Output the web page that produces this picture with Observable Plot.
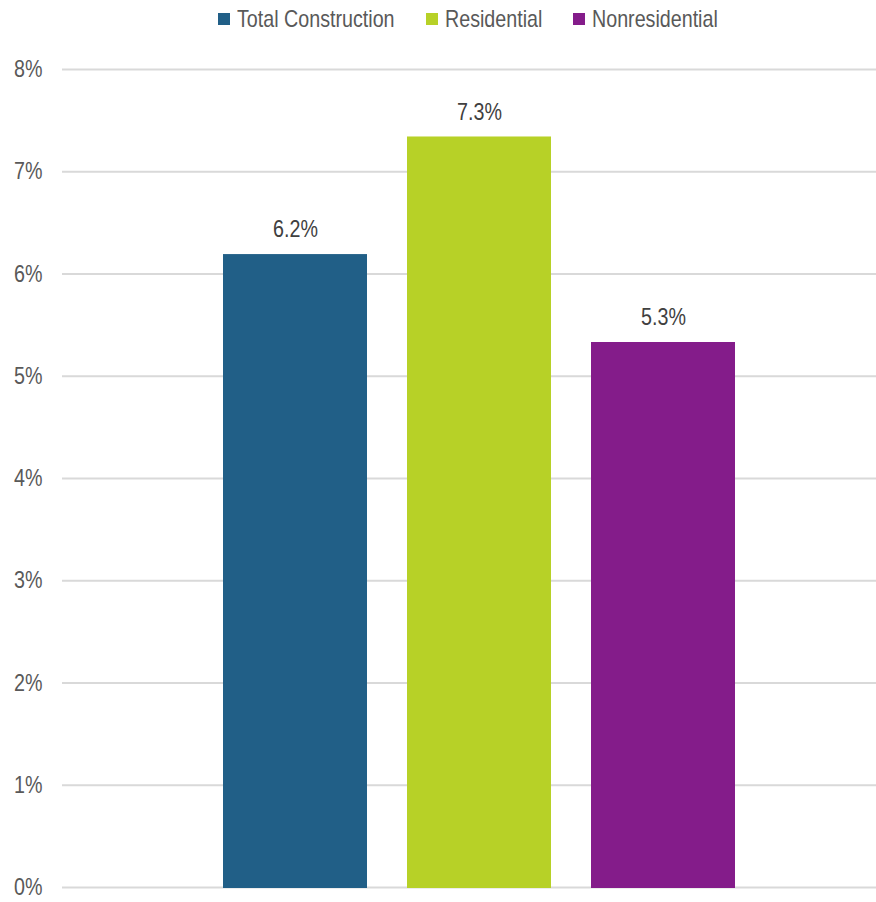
<!DOCTYPE html>
<html>
<head>
<meta charset="utf-8">
<script src="https://cdn.jsdelivr.net/npm/d3@7"></script>
<script src="https://cdn.jsdelivr.net/npm/@observablehq/plot@0.6"></script>
<style>
  html, body { margin: 0; padding: 0; background: #fff; }
  body { width: 876px; height: 902px; overflow: hidden; font-family: "Liberation Sans", Arial, sans-serif; }
  #legend { height: 37px; display: flex; align-items: center; padding-left: 218px; box-sizing: border-box; font-size: 24px; color: #595959; }
  .item { display: flex; align-items: center; margin-right: 31px; }
  .sw { width: 12px; height: 12px; margin-right: 7px; flex: none; }
  .lab { display: inline-block; white-space: nowrap; }
  .lab span { display: inline-block; transform-origin: left center; transform: scaleX(0.82); }
</style>
</head>
<body>
<div id="legend"></div>
<div id="chart"></div>
<script>
const series = ["Total Construction", "Residential", "Nonresidential"];
const values = [0.0619, 0.0734, 0.0533];
const colors = ["#215f87", "#b7d127", "#841c8a"];
const yTicks = [0, 0.01, 0.02, 0.03, 0.04, 0.05, 0.06, 0.07, 0.08];
const narrow = 0.82;

const data = series.map((s, i) => ({series: s, value: values[i]}));

const legend = document.getElementById("legend");
series.forEach((s, i) => {
  const it = document.createElement("div");
  it.className = "item";
  const sw = document.createElement("div");
  sw.className = "sw";
  sw.style.background = colors[i];
  const lab = document.createElement("span");
  lab.className = "lab";
  const t = document.createElement("span");
  t.textContent = s;
  lab.appendChild(t);
  it.appendChild(sw); it.appendChild(lab);
  legend.appendChild(it);
});
legend.querySelectorAll(".lab").forEach(lab => {
  const w = lab.firstChild.getBoundingClientRect().width;
  lab.style.width = w + "px";
});

const chart = Plot.plot({
  width: 876,
  height: 865,
  marginTop: 32,
  marginBottom: 15,
  marginLeft: 62,
  marginRight: 0,
  style: {fontFamily: '"Liberation Sans", Arial, sans-serif', fontSize: "24px", background: "#fff"},
  x: {type: "band", domain: series, range: [62, 896], paddingInner: 0.217, paddingOuter: 0.868, axis: null},
  y: {domain: [0, 0.08], axis: null},
  color: {domain: series, range: colors},
  marks: [
    Plot.gridY(yTicks, {stroke: "#d9d9d9", strokeOpacity: 1, strokeWidth: 2}),
    Plot.axisY(yTicks, {tickSize: 0, tickPadding: 20, label: null, tickFormat: d3.format(".0%"), fill: "#595959", fontSize: 24}),
    Plot.barY(data, {x: "series", y: "value", fill: "series", insetBottom: -1}),
    Plot.text(data, {x: "series", y: "value", text: d => (d.value * 100).toFixed(1) + "%", dy: -25, fill: "#404040", fontSize: 24})
  ]
});
document.getElementById("chart").appendChild(chart);
chart.querySelectorAll("text").forEach(t => {
  const w = t.getComputedTextLength();
  t.setAttribute("textLength", w * narrow);
  t.setAttribute("lengthAdjust", "spacingAndGlyphs");
});
</script>
</body>
</html>
